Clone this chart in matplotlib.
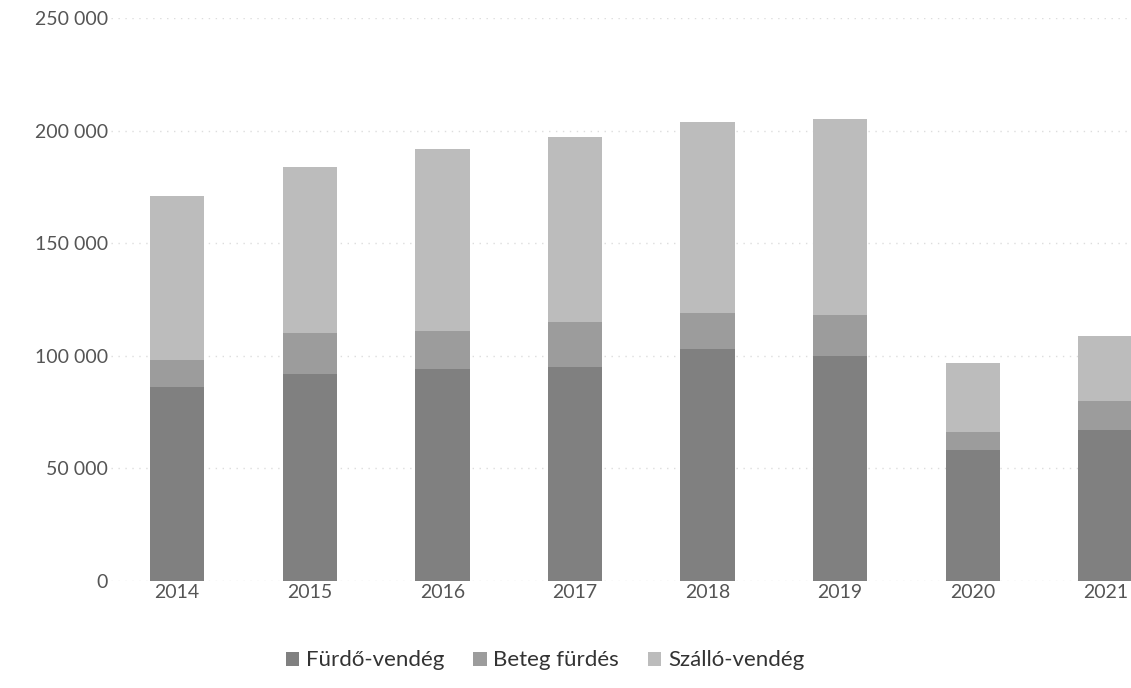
import matplotlib
matplotlib.use("Agg")
import matplotlib.pyplot as plt
from matplotlib.ticker import FuncFormatter

years = ["2014", "2015", "2016", "2017", "2018", "2019", "2020", "2021"]
furdo_vendeg = [86000, 92000, 94000, 95000, 103000, 100000, 58000, 67000]
beteg_furdes = [12000, 18000, 17000, 20000, 16000, 18000, 8000, 13000]
szallo_vendeg = [73000, 74000, 81000, 82000, 85000, 87000, 31000, 29000]
series_names = ["Fürdő-vendég", "Beteg fürdés", "Szálló-vendég"]
colors = ["#808080", "#9c9c9c", "#bcbcbc"]

plt.rcParams['font.family'] = ['Lato', 'DejaVu Sans']

fig = plt.figure(figsize=(11.31, 6.88), dpi=100)
ax = fig.add_axes([0.098, 0.1555, 0.938, 0.8183])

x = list(range(len(years)))
bottom2 = [a + b for a, b in zip(furdo_vendeg, beteg_furdes)]
ax.bar(x, furdo_vendeg, width=0.41, color=colors[0], label=series_names[0], zorder=3)
ax.bar(x, beteg_furdes, width=0.41, bottom=furdo_vendeg, color=colors[1], label=series_names[1], zorder=3)
ax.bar(x, szallo_vendeg, width=0.41, bottom=bottom2, color=colors[2], label=series_names[2], zorder=3)

ax.set_xlim(-0.5, len(years) - 0.5)
ax.set_ylim(0, 250000)
ax.set_yticks(range(0, 250001, 50000))
ax.yaxis.set_major_formatter(FuncFormatter(lambda v, p: f"{int(v):,}".replace(",", " ")))
ax.set_xticks(x)
ax.set_xticklabels(years)
ax.tick_params(axis='both', length=0, labelsize=14, colors="#555555")
ax.tick_params(axis='x', pad=2)
ax.tick_params(axis='y', pad=2)
ax.grid(axis='y', color="#dddddd", linestyle=(0, (1, 4)), linewidth=1, zorder=0)
for s in ax.spines.values():
    s.set_visible(False)

leg = fig.legend(loc="center", bbox_to_anchor=(0.482, 0.04), ncol=3, frameon=False,
                 fontsize=16, handlelength=0.6, handleheight=0.6, handletextpad=0.3,
                 columnspacing=1.3)
for t in leg.get_texts():
    t.set_color("#333333")

fig.savefig("out.png", dpi=100)
